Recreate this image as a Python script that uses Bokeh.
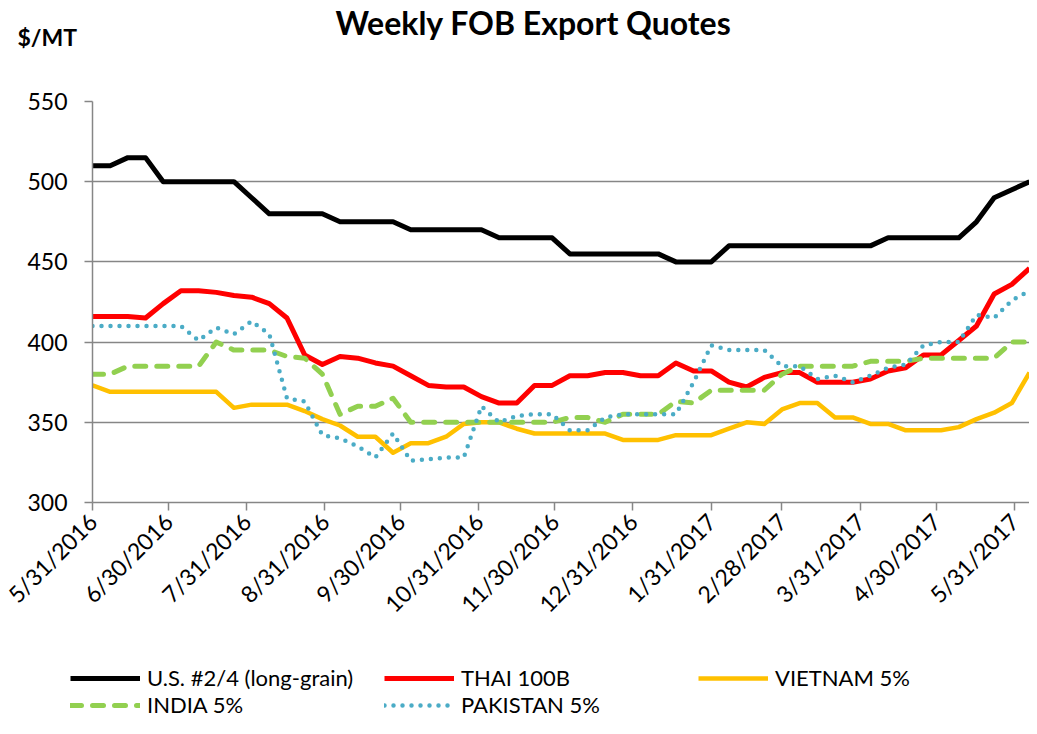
import pandas as pd
from math import pi
from bokeh.plotting import figure
from bokeh.models import (Range1d, FixedTicker, DatetimeTickFormatter, Label,
                          Legend, LegendItem)
from bokeh.embed import file_html
from bokeh.resources import INLINE

# ---------------- data ----------------
weeks = pd.date_range("2016-05-31", periods=54, freq="7D")

us_long_grain = [510, 510, 515, 515, 500, 500, 500, 500, 500, 490,
                 480, 480, 480, 480, 475, 475, 475, 475, 470, 470,
                 470, 470, 470, 465, 465, 465, 465, 455, 455, 455,
                 455, 455, 455, 450, 450, 450, 460, 460, 460, 460,
                 460, 460, 460, 460, 460, 465, 465, 465, 465, 465,
                 475, 490, 495, 500]
thai_100b = [416, 416, 416, 415, 424, 432, 432, 431, 429, 428,
             424, 415, 392, 386, 391, 390, 387, 385, 379, 373,
             372, 372, 366, 362, 362, 373, 373, 379, 379, 381,
             381, 379, 379, 387, 382, 382, 375, 372, 378, 381,
             381, 375, 375, 375, 377, 382, 384, 392, 392, 401,
             410, 430, 436, 446]
vietnam_5 = [373, 369, 369, 369, 369, 369, 369, 369, 359, 361,
             361, 361, 357, 352, 348, 341, 341, 331, 337, 337,
             341, 349, 350, 350, 346, 343, 343, 343, 343, 343,
             339, 339, 339, 342, 342, 342, 346, 350, 349, 358,
             362, 362, 353, 353, 349, 349, 345, 345, 345, 347,
             352, 356, 362, 381]
india_5 = [380, 380, 385, 385, 385, 385, 385, 400, 395, 395,
           395, 391, 390, 380, 355, 360, 360, 365, 350, 350,
           350, 350, 350, 350, 350, 350, 350, 353, 353, 350,
           355, 355, 355, 363, 362, 370, 370, 370, 370, 380,
           385, 385, 385, 385, 388, 388, 388, 390, 390, 390,
           390, 390, 400, 400]
pakistan_5 = [410, 410, 410, 410, 410, 410, 401, 409, 405, 413,
              405, 365, 363, 342, 340, 335, 328, 343, 326, 327,
              328, 328, 360, 350, 354, 355, 355, 345, 345, 353,
              355, 355, 355, 355, 375, 398, 395, 395, 395, 385,
              385, 377, 379, 375, 379, 384, 386, 398, 400, 400,
              417, 415, 426, 432]

series_names = ["U.S. #2/4 (long-grain)", "THAI 100B", "VIETNAM 5%",
                "INDIA 5%", "PAKISTAN 5%"]

x_tick_dates = ["2016-05-31", "2016-06-30", "2016-07-31", "2016-08-31",
                "2016-09-30", "2016-10-31", "2016-11-30", "2016-12-31",
                "2017-01-31", "2017-02-28", "2017-03-31", "2017-04-30",
                "2017-05-31"]
x_tick_labels = ["5/31/2016", "6/30/2016", "7/31/2016", "8/31/2016",
                 "9/30/2016", "10/31/2016", "11/30/2016", "12/31/2016",
                 "1/31/2017", "2/28/2017", "3/31/2017", "4/30/2017",
                 "5/31/2017"]
y_ticks = [300, 350, 400, 450, 500, 550]

title_text = "Weekly FOB Export Quotes"
unit_text = "$/MT"

FONT = "Lato"
W = 1029
HEAD_H = 56
MAIN_H = 574
LEG_H = 88

styles = [
    dict(line_color="#000000", line_width=5),
    dict(line_color="#FF0000", line_width=5),
    dict(line_color="#FFC000", line_width=4.5),
    dict(line_color="#92D050", line_width=5, line_dash="11 11", line_cap="round"),
    dict(line_color="#4BACC6", line_width=4.5, line_dash="0 9", line_cap="round"),
]
all_series = [us_long_grain, thai_100b, vietnam_5, india_5, pakistan_5]

# ---------------- header (title + unit) ----------------
head = figure(width=W, height=HEAD_H, output_backend="svg",
              toolbar_location=None, title=None,
              x_axis_location=None, y_axis_location=None, min_border=0)
head.outline_line_color = None
head.xgrid.visible = False
head.ygrid.visible = False
head.add_layout(Label(x=533, y=HEAD_H - 22, x_units="screen", y_units="screen",
                      text=title_text, text_font=FONT, text_font_style="bold",
                      text_font_size="32px", text_align="center",
                      text_baseline="middle", text_color="black"))
head.add_layout(Label(x=17, y=HEAD_H - 36, x_units="screen", y_units="screen",
                      text=unit_text, text_font=FONT, text_font_style="bold",
                      text_font_size="23px", text_align="left",
                      text_baseline="middle", text_color="black"))

# ---------------- main chart ----------------
p = figure(width=W, height=MAIN_H, x_axis_type="datetime",
           output_backend="svg", toolbar_location=None, title=None,
           x_range=Range1d(weeks[0], weeks[-1]),
           y_range=Range1d(y_ticks[0], y_ticks[-1]),
           min_border_left=92, min_border_right=0,
           min_border_top=101 - HEAD_H, min_border_bottom=HEAD_H + MAIN_H - 503)
p.outline_line_color = None

tick_ms = [pd.Timestamp(d).value / 1e6 for d in x_tick_dates]
p.xaxis.ticker = FixedTicker(ticks=tick_ms)
fmt = "%-m/%d/%Y"
p.xaxis.formatter = DatetimeTickFormatter(days=fmt, months=fmt, years=fmt,
                                          hours=fmt, hourmin=fmt)
p.xaxis.major_label_overrides = {t: l for t, l in zip(tick_ms, x_tick_labels)}
p.xaxis.major_label_orientation = pi / 4
p.yaxis.ticker = FixedTicker(ticks=y_ticks)

for ax in (p.xaxis, p.yaxis):
    ax.axis_line_color = "#868686"
    ax.axis_line_width = 1.5
    ax.major_tick_line_color = "#868686"
    ax.major_tick_line_width = 1.5
    ax.major_tick_out = 8
    ax.major_tick_in = 0
    ax.minor_tick_line_color = None
    ax.major_label_text_font = FONT
    ax.major_label_text_font_size = "23px"
    ax.major_label_text_color = "black"
p.yaxis.major_label_standoff = 17
p.xaxis.major_label_standoff = 7

p.xgrid.grid_line_color = None
p.ygrid.grid_line_color = "#868686"
p.ygrid.grid_line_width = 1.5

for vals, st in zip(all_series, styles):
    p.line(weeks, vals, line_join="round", **st)

# ---------------- legend strip ----------------
# same series, drawn off-view so only the legend entries show
leg = figure(width=W, height=LEG_H, output_backend="svg",
             toolbar_location=None, title=None,
             x_range=p.x_range, y_range=Range1d(0, 1),
             x_axis_location=None, y_axis_location=None, min_border=0)
leg.outline_line_color = None
leg.xgrid.visible = False
leg.ygrid.visible = False
leg_renderers = [leg.line(weeks, vals, **st) for vals, st in zip(all_series, styles)]
legend = Legend(items=[LegendItem(label=n, renderers=[r])
                       for n, r in zip(series_names, leg_renderers)],
                location=(70, 0), orientation="horizontal", ncols=3,
                glyph_width=70, glyph_height=20, label_standoff=7,
                label_width=237, label_height=20, spacing=-6, padding=0,
                margin=0, border_line_alpha=0, background_fill_alpha=0,
                label_text_font=FONT, label_text_font_size="22px",
                label_text_color="black")
leg.add_layout(legend)

open("out.html", "w").write(file_html([head, p, leg], INLINE))
